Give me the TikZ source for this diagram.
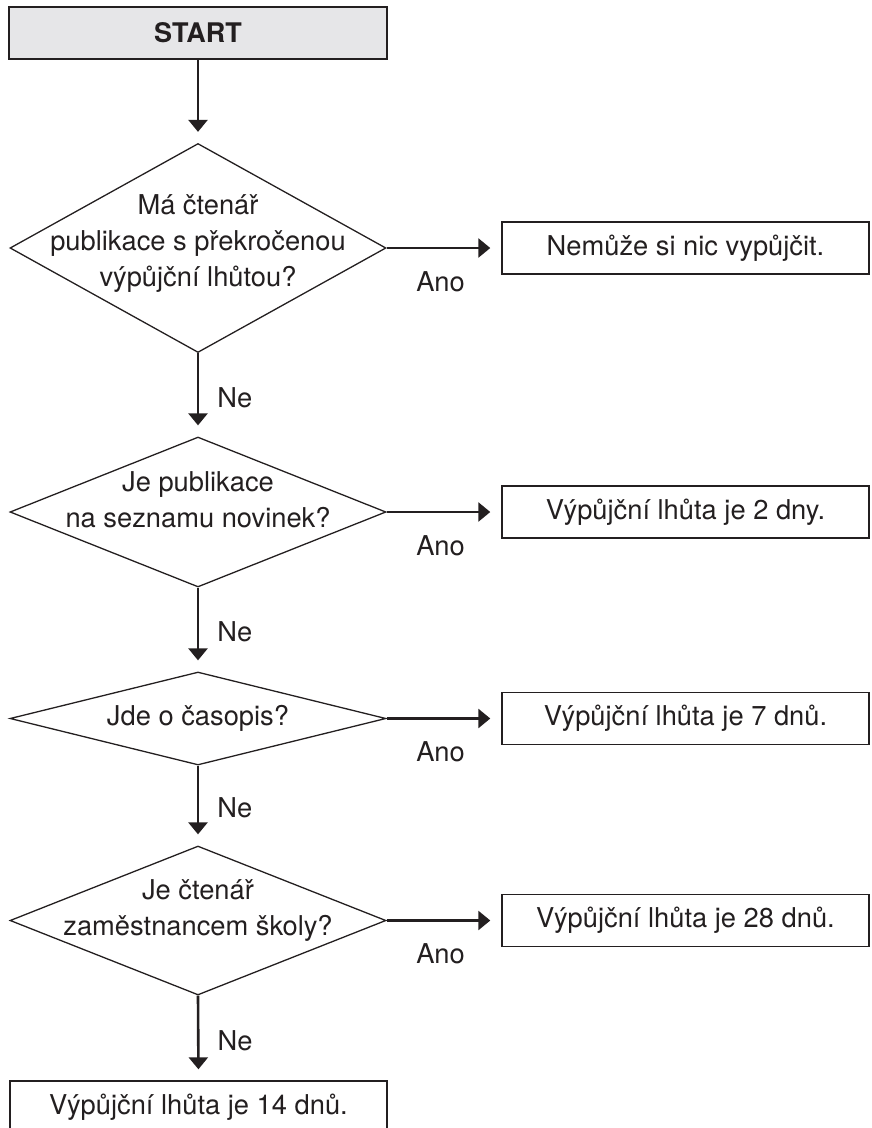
\documentclass[tikz,border=0pt]{standalone}
\usepackage{fontspec}
\setmainfont{TeX Gyre Heros}
\usetikzlibrary{shapes.geometric,arrows.meta}
\definecolor{ink}{HTML}{231F20}
\definecolor{startfill}{HTML}{E6E6E8}
\begin{document}
\begin{tikzpicture}[x=1pt,y=-1pt,
  font=\fontsize{27.3}{36}\selectfont, text=ink,
  box/.style={draw=ink, line width=1.4pt, rectangle, inner sep=0pt, minimum height=52pt},
  startbox/.style={box, fill=startfill, font=\fontsize{27}{36}\selectfont\bfseries, minimum width=378pt},
  answer/.style={box, minimum width=367pt},
  question/.style={draw=ink, line width=1.3pt, diamond, inner sep=0pt, minimum width=376pt},
  qtext/.style={align=center, inner sep=0pt},
  flow/.style={draw=ink, line width=2.6pt, -{Triangle[length=12pt,width=19pt]}, shorten >=11pt},
  lbl/.style={inner sep=0pt},
  yes/.style={lbl, pos=0.47, anchor=north, yshift=-22pt},
  no/.style={lbl, pos=0.53, anchor=west, xshift=18pt},
]
\clip (0,0) rectangle (871,1128);

% start
\node[startbox] (start) at (198,33) {START};

% questions (diamonds) with their texts
\node[question, minimum height=209pt] (q1) at (198,248) {};
\node[qtext] (q1t) at (198,244) {Má čtenář\\publikace s překročenou\\výpůjční lhůtou?};
\node[question, minimum height=150pt] (q2) at (198,512) {};
\node[qtext] (q2t) at (198,500) {Je publikace\\na seznamu novinek?};
\node[question, minimum height=93pt] (q3) at (198,718.5) {};
\node[qtext] (q3t) at (198,718.5) {Jde o časopis?};
\node[question, minimum height=149pt] (q4) at (198,920.5) {};
\node[qtext] (q4t) at (198,910) {Je čtenář\\zaměstnancem školy?};

% outcomes
\node[answer] (a1) at (685.5,248) {Nemůže si nic vypůjčit.};
\node[answer] (a2) at (685.5,512) {Výpůjční lhůta je 2 dny.};
\node[answer] (a3) at (685.5,718.5) {Výpůjční lhůta je 7 dnů.};
\node[answer] (a4) at (685.5,920.5) {Výpůjční lhůta je 28 dnů.};
\node[box, minimum width=377pt] (end) at (198.5,1107) {Výpůjční lhůta je 14 dnů.};

% main flow
\draw[flow] (start.south) -- (q1.north);
\draw[flow] (q1.south) -- node[no] {Ne} (q2.north);
\draw[flow] (q2.south) -- node[no] {Ne} (q3.north);
\draw[flow] (q3.south) -- node[no] {Ne} (q4.north);
\draw[flow] (q4.south) -- node[no] {Ne} (end.north);

% yes branches
\draw[flow] (q1.east) -- node[yes] {Ano} (q1.east -| a1.west);
\draw[flow] (q2.east) -- node[yes] {Ano} (q2.east -| a2.west);
\draw[flow] (q3.east) -- node[yes] {Ano} (q3.east -| a3.west);
\draw[flow] (q4.east) -- node[yes] {Ano} (q4.east -| a4.west);
\end{tikzpicture}
\end{document}
